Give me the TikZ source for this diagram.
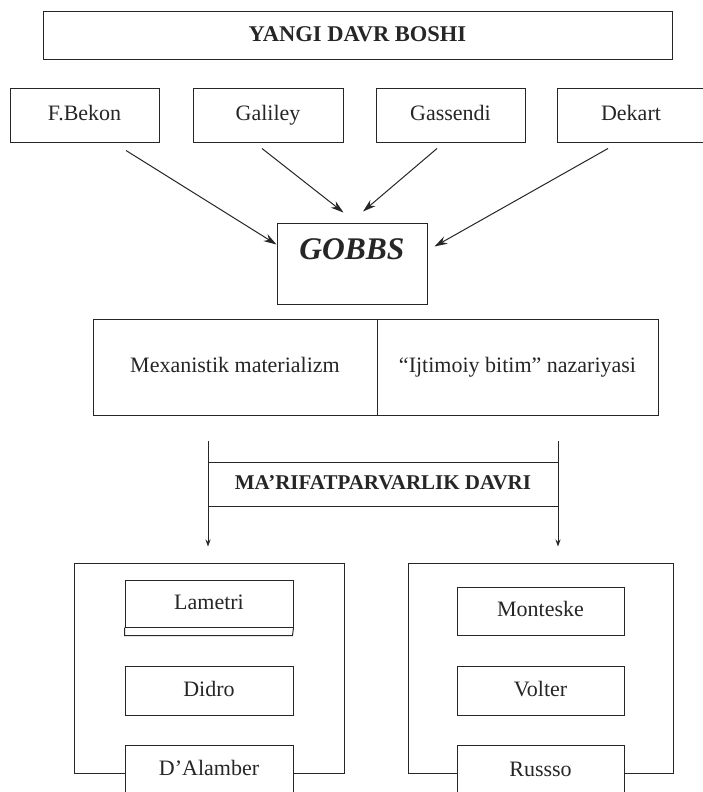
\documentclass[tikz,border=0pt]{standalone}
\usepackage{fontspec}
\setmainfont{Liberation Serif}
\usetikzlibrary{arrows.meta}

\begin{document}
\begin{tikzpicture}[x=1pt, y=-1pt, color=black!85, line width=1pt,
  box/.style={draw, rectangle, inner sep=0pt, text=black!85,
    text height=15pt, text depth=4pt,
    font=\fontsize{22}{26}\selectfont},
  sarlavha/.style={box, font=\fontsize{22.5}{26}\selectfont\bfseries},
  katta/.style={->, >={Stealth[length=13pt,width=8pt]}},
  kichik/.style={->, >={Stealth[length=7pt,width=5pt]}, shorten >=16pt}]

\path[use as bounding box, fill=white] (0,0) rectangle (703,792);

% Yuqori qism
\node[sarlavha, minimum width=629pt, minimum height=48pt] (boshi) at (357.5,36) {YANGI DAVR BOSHI};

\node[box, minimum width=149pt, minimum height=54pt] (bekon) at (84.5,115) {F.Bekon};
\node[box, minimum width=150pt, minimum height=54pt] (galiley) at (268,115) {Galiley};
\node[box, minimum width=149pt, minimum height=54pt] (gassendi) at (450.5,115) {Gassendi};
\node[box, minimum width=148pt, minimum height=54pt] (dekart) at (631,115) {Dekart};

\node[box, minimum width=150pt, text height=36pt, text depth=45pt,
  font=\fontsize{31.5}{36}\selectfont\bfseries\itshape] (gobbs) at (352,263.5) {GOBBS};

% Strelkalar
\draw[katta] ([xshift=41.5pt,yshift=-8pt]bekon.south) -- ([yshift=-22pt]gobbs.north west);
\draw[katta] ([xshift=-6pt,yshift=-6pt]galiley.south) -- ([xshift=-8.5pt,yshift=10pt]gobbs.north);
\draw[katta] ([xshift=-13.5pt,yshift=-6pt]gassendi.south) -- ([xshift=11pt,yshift=11pt]gobbs.north);
\draw[katta] ([xshift=-23pt,yshift=-6pt]dekart.south) -- ([xshift=7pt,yshift=-24pt]gobbs.north east);

% Ikki qism
\node[box, minimum width=284pt, minimum height=96pt] (mexanistik) at (235,367) {Mexanistik materializm};
\node[box, minimum width=281pt, minimum height=96pt] (bitim) at (517.5,367) {“Ijtimoiy bitim” nazariyasi};

% Ma'rifatparvarlik
\node[sarlavha, minimum width=350pt, minimum height=44pt,
  font=\fontsize{21}{25}\selectfont\bfseries] (marifat) at (383,484) {MA’RIFATPARVARLIK DAVRI};
\coordinate (chap) at (208,441);
\coordinate (ong) at (558,441);

\node[draw, minimum width=270pt, minimum height=210pt] (chapguruh) at (209,668) {};
\node[draw, minimum width=265pt, minimum height=210pt] (ongguruh) at (540.5,668) {};

\draw[kichik] (chap) -- (chap |- chapguruh.north);
\draw[kichik] (ong) -- (ong |- ongguruh.north);

% Chap guruh
\node[box, minimum width=168pt, minimum height=47pt] (lametri) at (209,603.5) {Lametri};
\draw (lametri.south west) -- ++(0,8) -- ++(168,0) -- (lametri.south east);
\node[box, minimum width=168pt, minimum height=49pt] (didro) at (209,690.5) {Didro};
\node[box, fill=white, minimum width=168pt, minimum height=50pt] (dalamber) at (209,770) {D’Alamber};

% O'ng guruh
\node[box, minimum width=167pt, minimum height=48pt] (monteske) at (540.5,611) {Monteske};
\node[box, minimum width=167pt, minimum height=49pt] (volter) at (540.5,690.5) {Volter};
\node[box, fill=white, minimum width=167pt, minimum height=50pt] (russso) at (540.5,770.5) {Russso};

\end{tikzpicture}
\end{document}
